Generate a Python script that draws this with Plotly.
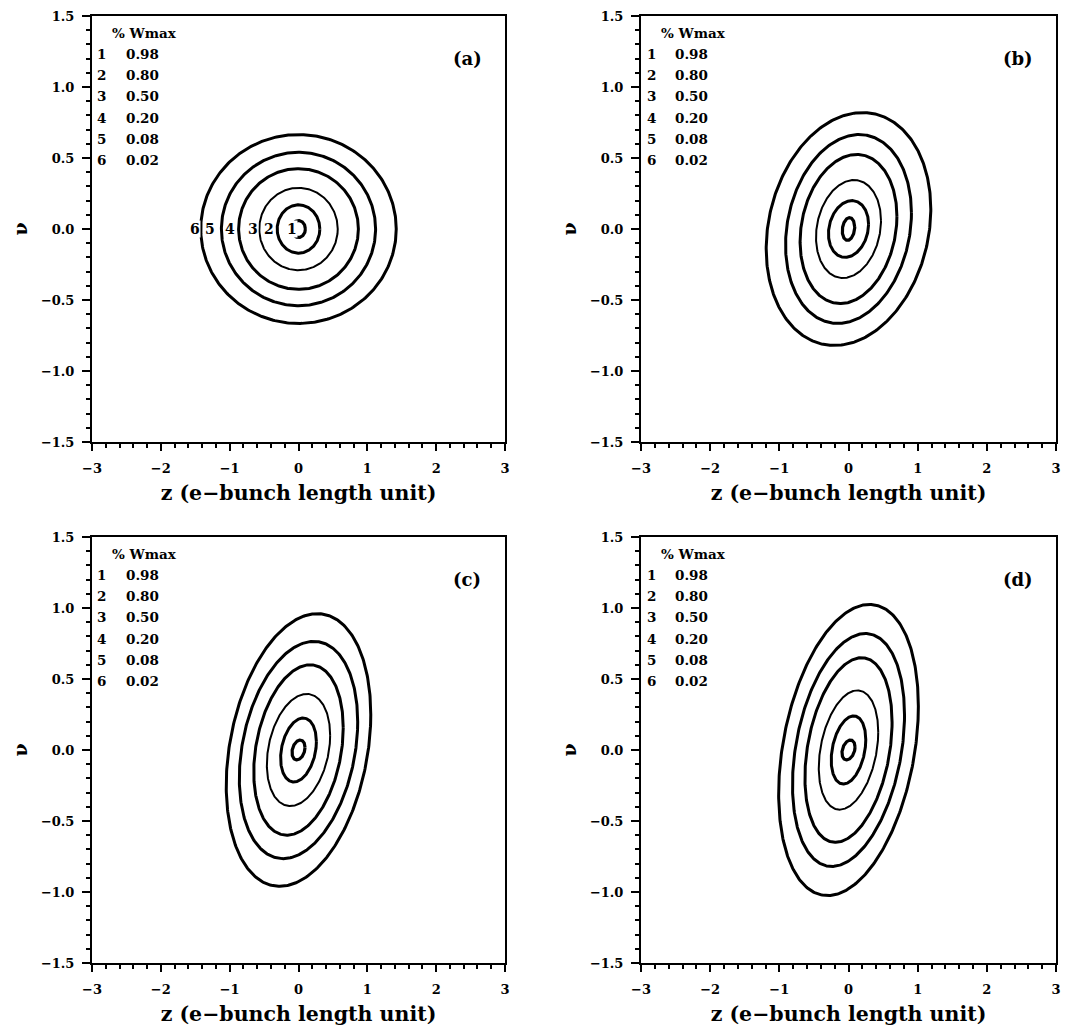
import numpy as np
import plotly.graph_objects as go
from plotly.subplots import make_subplots

# ---- data ----
levels = [0.98, 0.80, 0.50, 0.20, 0.08, 0.02]          # % Wmax of contours 1..6
level_ids = ["1", "2", "3", "4", "5", "6"]
panel_tags = ["(a)", "(b)", "(c)", "(d)"]

# max |z| and max |v| reached by each contour (1..6), per panel
z_half_a = [0.10, 0.31, 0.57, 0.87, 1.12, 1.42]
v_half_a = [0.06, 0.17, 0.29, 0.425, 0.54, 0.665]
z_half_b = [0.09, 0.29, 0.47, 0.70, 0.91, 1.19]
v_half_b = [0.08, 0.20, 0.345, 0.525, 0.665, 0.82]
z_half_c = [0.095, 0.26, 0.46, 0.65, 0.86, 1.05]
v_half_c = [0.07, 0.225, 0.395, 0.60, 0.765, 0.96]
z_half_d = [0.095, 0.25, 0.43, 0.63, 0.81, 1.01]
v_half_d = [0.07, 0.24, 0.42, 0.65, 0.82, 1.025]
# z-v correlation (tilt) of the contours, per panel
tilt = [0.0, 0.17, 0.26, 0.30]
# positions (z) of the inline contour labels in panel (a), contours 1..6
label_z_a = [-0.09, -0.43, -0.66, -1.00, -1.28, -1.50]

z_ticks = [-3, -2, -1, 0, 1, 2, 3]
v_ticks = [-1.5, -1.0, -0.5, 0.0, 0.5, 1.0, 1.5]

panels = [(z_half_a, v_half_a), (z_half_b, v_half_b),
          (z_half_c, v_half_c), (z_half_d, v_half_d)]
cells = [(1, 1), (1, 2), (2, 1), (2, 2)]

FONT = "DejaVu Serif"
widths = [3.2, 3.0, 2.0, 3.0, 3.0, 3.0]

fig = make_subplots(rows=2, cols=2)
t = np.linspace(0, 2 * np.pi, 361)
for p, ((zh, vh), (r, c)) in enumerate(zip(panels, cells)):
    rho = tilt[p]
    for k in range(len(levels)):
        a, b = zh[k], vh[k]
        z = a * np.cos(t)
        v = b * (rho * np.cos(t) + np.sqrt(1 - rho ** 2) * np.sin(t))
        fig.add_trace(go.Scatter(x=z, y=v, mode="lines",
                                 line=dict(color="black", width=widths[k]),
                                 name=f"{level_ids[k]}: {levels[k]:.2f}",
                                 hoverinfo="skip", showlegend=False),
                      row=r, col=c)

xdom = [[92 / 1077, 505 / 1077], [641 / 1077, 1056 / 1077]]
ydom = [[1 - 442 / 1032, 1 - 16 / 1032], [1 - 963 / 1032, 1 - 537 / 1032]]

tickfont = dict(family=FONT, size=13, color="black", weight="bold")
annotations = []
for p, (r, c) in enumerate(cells):
    ax = "" if p == 0 else str(p + 1)
    xa = dict(range=[-3, 3], tickvals=z_ticks,
              ticktext=[("−" if v < 0 else "") + str(abs(v)) for v in z_ticks],
              ticks="outside", ticklen=7, tickwidth=2, tickcolor="black",
              minor=dict(dtick=0.2, tick0=-3, ticks="outside", ticklen=4, tickwidth=1.5, tickcolor="black"),
              showline=True, linewidth=2, linecolor="black", mirror=True, automargin=False,
              showgrid=False, zeroline=False, tickfont=tickfont, ticklabelstandoff=6,
              domain=xdom[c - 1],
              title=dict(text="z (e−bunch length unit)", standoff=11,
                         font=dict(family=FONT, size=20.5, color="black", weight="bold")))
    ya = dict(range=[-1.5, 1.5], tickvals=v_ticks, tickformat=".1f",
              ticks="outside", ticklen=8, tickwidth=2, tickcolor="black",
              minor=dict(dtick=0.1, tick0=-1.5, ticks="outside", ticklen=4, tickwidth=1.5, tickcolor="black"),
              showline=True, linewidth=2, linecolor="black", mirror=True, automargin=False,
              showgrid=False, zeroline=False, tickfont=tickfont, ticklabelstandoff=5,
              domain=ydom[r - 1],
              title=dict(text="ν", standoff=8,
                         font=dict(family=FONT, size=19, color="black", weight="bold")))
    fig.layout["xaxis" + ax].update(xa)
    fig.layout["yaxis" + ax].update(ya)
    xr, yr = "x" + ax, "y" + ax
    # panel tag
    annotations.append(dict(x=2.45, y=1.2, xref=xr, yref=yr, text=panel_tags[p], showarrow=False,
                            font=dict(family=FONT, size=18, color="black", weight="bold")))
    # level table
    annotations.append(dict(x=-2.74, y=1.38, xref=xr, yref=yr, text="% Wmax", showarrow=False,
                            xanchor="left", font=dict(family=FONT, size=13.5, color="black", weight="bold")))
    for k in range(len(levels)):
        yy = 1.235 - 0.1505 * k
        annotations.append(dict(x=-2.855, y=yy, xref=xr, yref=yr, text=level_ids[k], showarrow=False,
                                font=dict(family=FONT, size=13.5, color="black", weight="bold")))
        annotations.append(dict(x=-2.54, y=yy, xref=xr, yref=yr, text=f"{levels[k]:.2f}", showarrow=False,
                                xanchor="left", font=dict(family=FONT, size=13.5, color="black", weight="bold")))
    if p == 0:
        for k in range(len(levels)):
            annotations.append(dict(x=label_z_a[k], y=0, xref=xr, yref=yr, text=level_ids[k],
                                    showarrow=False, bgcolor="white", borderpad=0,
                                    font=dict(family=FONT, size=14, color="black", weight="bold")))

fig.update_layout(width=1077, height=1032, margin=dict(l=0, r=0, t=0, b=0),
                  paper_bgcolor="white", plot_bgcolor="white", showlegend=False,
                  annotations=annotations)
fig.write_html("out.html")
